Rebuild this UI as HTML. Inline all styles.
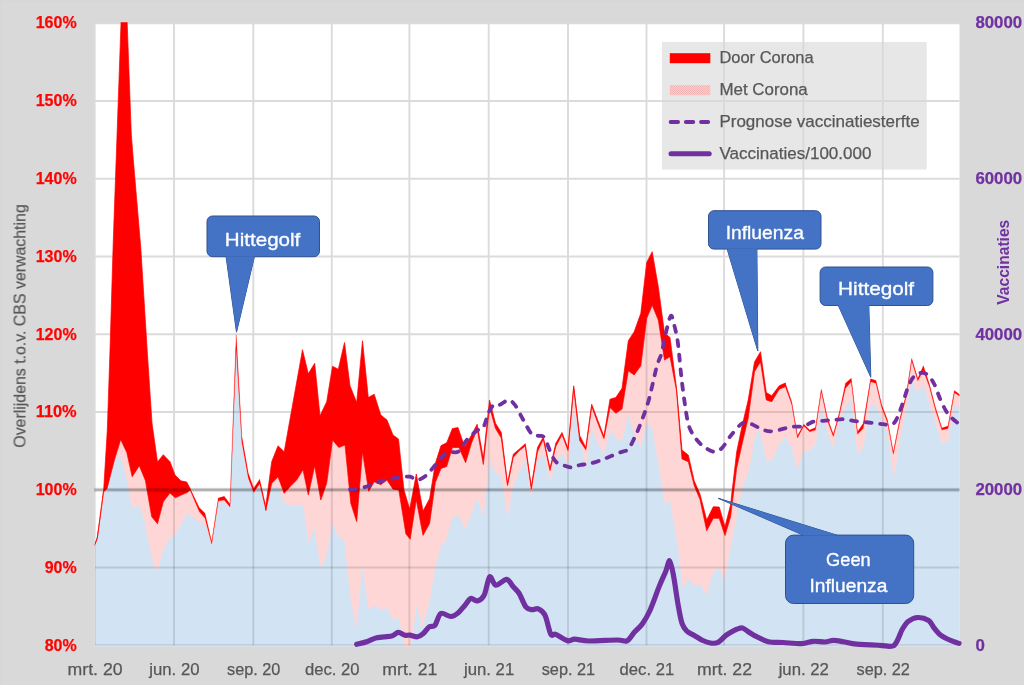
<!DOCTYPE html>
<html><head><meta charset="utf-8"><title>Chart</title>
<style>html,body{margin:0;padding:0;background:#D9D9D9;overflow:hidden}body{width:1024px;height:685px;position:relative;font-family:"Liberation Sans",sans-serif}</style></head>
<body>
<svg width="1024" height="685" viewBox="0 0 1024 685" style="position:absolute;left:0;top:0" font-family="Liberation Sans, sans-serif">
<defs>
<clipPath id="plot"><rect x="94.75" y="22.3" width="864.75" height="624.4000000000001"/></clipPath>
<clipPath id="plot2"><rect x="94.75" y="23.3" width="864.75" height="622.2"/></clipPath>
<clipPath id="underP"><polygon points="92.0,548.5 95.0,544.3 97.3,538.5 103.5,492.0 107.1,488.4 114.4,460.0 120.7,439.5 126.8,452.6 132.2,476.7 139.3,465.8 145.4,480.4 151.7,516.7 157.5,523.8 163.3,501.7 170.0,493.0 175.3,497.8 181.3,495.0 187.2,492.5 190.0,490.0 199.2,511.5 205.0,518.3 211.7,544.0 218.3,501.0 224.2,500.0 230.0,507.0 236.2,348.0 241.8,442.0 248.3,478.0 253.7,492.5 259.7,483.7 265.8,510.5 271.7,483.3 278.0,476.7 284.2,493.3 290.8,485.8 296.7,480.0 303.0,469.7 308.3,495.0 314.7,465.8 320.8,500.0 326.7,483.3 332.5,440.0 338.8,447.5 345.0,445.0 350.8,503.3 356.7,521.7 362.5,451.7 368.7,491.3 374.2,481.7 380.8,484.7 387.0,480.0 393.0,489.2 398.8,490.0 405.9,533.9 410.2,539.2 416.3,499.7 423.0,535.4 429.6,523.4 435.3,482.6 441.0,468.4 446.7,466.5 452.4,447.5 459.0,447.5 465.6,462.7 471.7,442.5 477.2,429.2 483.3,464.5 489.5,407.0 495.5,428.5 501.3,438.0 507.5,485.5 513.3,457.3 519.2,450.7 525.3,445.9 531.3,488.9 537.5,451.7 543.3,439.2 550.0,470.5 555.8,446.5 562.0,434.7 568.0,450.5 573.7,388.0 579.7,440.5 585.8,449.7 591.7,406.4 598.0,423.6 603.9,438.5 610.0,407.5 615.8,413.3 622.0,409.0 628.3,370.8 634.2,375.0 640.8,365.8 646.7,318.3 652.2,305.3 658.3,320.0 664.5,360.0 670.0,356.7 676.5,390.5 682.0,459.0 688.3,461.7 694.2,485.5 700.0,499.5 706.7,530.8 713.3,518.3 719.2,518.3 725.0,535.5 730.5,517.0 736.7,468.0 742.3,443.0 748.2,418.0 754.5,371.7 760.5,361.7 766.3,400.0 771.7,401.7 779.2,389.2 785.3,386.7 791.7,404.2 797.5,438.0 803.8,425.9 809.7,431.7 815.5,430.0 821.3,391.4 827.5,420.8 833.3,436.4 839.2,415.8 845.5,388.3 851.3,381.7 857.5,434.2 863.3,428.3 870.6,381.7 876.0,383.3 881.7,407.5 887.5,422.5 893.3,454.2 900.0,420.5 906.6,395.5 911.7,360.7 917.8,380.7 923.4,370.5 929.4,386.7 935.5,410.0 941.9,430.0 948.0,428.5 954.4,392.8 959.6,396.1 962.0,397.5 962.0,700.0 92.0,700.0"/></clipPath>
<pattern id="pinkpat" width="2" height="2" patternUnits="userSpaceOnUse"><rect width="2" height="2" fill="#F8CFCF"/><rect width="1" height="1" fill="#F2B4B4"/><rect x="1" y="1" width="1" height="1" fill="#F2B4B4"/></pattern>
</defs>
<rect width="1024" height="685" fill="#D9D9D9"/>
<rect width="2" height="685" fill="#D7D7D7"/><rect width="1024" height="1.3" fill="#D7D7D7"/>
<rect x="94.75" y="23.3" width="864.75" height="622.2" fill="#fff"/>
<line x1="94.7" y1="23.3" x2="94.7" y2="645.5" stroke="#DBDBDB" stroke-width="1.9"/><line x1="174.0" y1="23.3" x2="174.0" y2="645.5" stroke="#DBDBDB" stroke-width="1.9"/><line x1="253.3" y1="23.3" x2="253.3" y2="645.5" stroke="#DBDBDB" stroke-width="1.9"/><line x1="331.8" y1="23.3" x2="331.8" y2="645.5" stroke="#DBDBDB" stroke-width="1.9"/><line x1="409.4" y1="23.3" x2="409.4" y2="645.5" stroke="#DBDBDB" stroke-width="1.9"/><line x1="488.7" y1="23.3" x2="488.7" y2="645.5" stroke="#DBDBDB" stroke-width="1.9"/><line x1="568.0" y1="23.3" x2="568.0" y2="645.5" stroke="#DBDBDB" stroke-width="1.9"/><line x1="646.5" y1="23.3" x2="646.5" y2="645.5" stroke="#DBDBDB" stroke-width="1.9"/><line x1="724.1" y1="23.3" x2="724.1" y2="645.5" stroke="#DBDBDB" stroke-width="1.9"/><line x1="803.4" y1="23.3" x2="803.4" y2="645.5" stroke="#DBDBDB" stroke-width="1.9"/><line x1="882.8" y1="23.3" x2="882.8" y2="645.5" stroke="#DBDBDB" stroke-width="1.9"/><line x1="94.75" y1="23.3" x2="959.5" y2="23.3" stroke="#DBDBDB" stroke-width="1.9"/><line x1="94.75" y1="101.0" x2="959.5" y2="101.0" stroke="#DBDBDB" stroke-width="1.9"/><line x1="94.75" y1="178.8" x2="959.5" y2="178.8" stroke="#DBDBDB" stroke-width="1.9"/><line x1="94.75" y1="256.5" x2="959.5" y2="256.5" stroke="#DBDBDB" stroke-width="1.9"/><line x1="94.75" y1="334.3" x2="959.5" y2="334.3" stroke="#DBDBDB" stroke-width="1.9"/><line x1="94.75" y1="412.0" x2="959.5" y2="412.0" stroke="#DBDBDB" stroke-width="1.9"/><line x1="94.75" y1="489.7" x2="959.5" y2="489.7" stroke="#DBDBDB" stroke-width="1.9"/><line x1="94.75" y1="567.5" x2="959.5" y2="567.5" stroke="#DBDBDB" stroke-width="1.9"/><line x1="94.75" y1="645.2" x2="959.5" y2="645.2" stroke="#DBDBDB" stroke-width="1.9"/>
<g clip-path="url(#plot)">
<polygon points="92.0,548.5 95.0,544.3 97.3,538.5 103.5,492.0 107.1,488.4 114.4,460.0 120.7,439.5 126.8,452.6 132.2,476.7 139.3,465.8 145.4,480.4 151.7,516.7 157.5,523.8 163.3,501.7 170.0,493.0 175.3,497.8 181.3,495.0 187.2,492.5 190.0,490.0 199.2,511.5 205.0,518.3 211.7,544.0 218.3,501.0 224.2,500.0 230.0,507.0 236.2,348.0 241.8,442.0 248.3,478.0 253.7,492.5 259.7,483.7 265.8,510.5 271.7,483.3 278.0,476.7 284.2,493.3 290.8,485.8 296.7,480.0 303.0,469.7 308.3,495.0 314.7,465.8 320.8,500.0 326.7,483.3 332.5,440.0 338.8,447.5 345.0,445.0 350.8,503.3 356.7,521.7 362.5,451.7 368.7,491.3 374.2,481.7 380.8,484.7 387.0,480.0 393.0,489.2 398.8,490.0 405.9,533.9 410.2,539.2 416.3,499.7 423.0,535.4 429.6,523.4 435.3,482.6 441.0,468.4 446.7,466.5 452.4,447.5 459.0,447.5 465.6,462.7 471.7,442.5 477.2,429.2 483.3,464.5 489.5,407.0 495.5,428.5 501.3,438.0 507.5,485.5 513.3,457.3 519.2,450.7 525.3,445.9 531.3,488.9 537.5,451.7 543.3,439.2 550.0,470.5 555.8,446.5 562.0,434.7 568.0,450.5 573.7,388.0 579.7,440.5 585.8,449.7 591.7,406.4 598.0,423.6 603.9,438.5 610.0,407.5 615.8,413.3 622.0,409.0 628.3,370.8 634.2,375.0 640.8,365.8 646.7,318.3 652.2,305.3 658.3,320.0 664.5,360.0 670.0,356.7 676.5,390.5 682.0,459.0 688.3,461.7 694.2,485.5 700.0,499.5 706.7,530.8 713.3,518.3 719.2,518.3 725.0,535.5 730.5,517.0 736.7,468.0 742.3,443.0 748.2,418.0 754.5,371.7 760.5,361.7 766.3,400.0 771.7,401.7 779.2,389.2 785.3,386.7 791.7,404.2 797.5,438.0 803.8,425.9 809.7,431.7 815.5,430.0 821.3,391.4 827.5,420.8 833.3,436.4 839.2,415.8 845.5,388.3 851.3,381.7 857.5,434.2 863.3,428.3 870.6,381.7 876.0,383.3 881.7,407.5 887.5,422.5 893.3,454.2 900.0,420.5 906.6,395.5 911.7,360.7 917.8,380.7 923.4,370.5 929.4,386.7 935.5,410.0 941.9,430.0 948.0,428.5 954.4,392.8 959.6,396.1 962.0,397.5 962.0,700.0 92.0,700.0" fill="#FFD6D6"/>
<polygon points="92.0,549.0 95.0,545.0 97.6,530.0 100.6,517.6 107.1,488.4 114.4,460.0 120.3,455.5 126.5,479.0 132.2,508.8 139.5,504.5 145.0,523.0 150.8,554.2 152.5,561.0 157.2,572.3 162.5,551.8 170.0,537.7 175.0,535.3 187.5,512.8 196.7,520.0 205.8,525.8 211.7,546.5 218.3,503.8 224.2,502.3 230.0,509.0 236.2,355.0 241.8,446.0 248.3,479.5 253.7,493.5 259.7,484.7 265.8,511.5 271.7,488.0 278.0,487.0 284.2,503.3 290.8,505.0 303.0,505.8 305.0,516.7 308.3,543.5 314.2,527.5 320.8,568.5 326.7,554.3 332.5,523.3 338.3,536.7 344.2,539.2 347.5,571.0 350.8,601.0 356.7,628.5 362.5,565.0 368.3,609.3 374.2,605.0 380.8,610.0 386.7,608.0 393.0,619.3 398.8,618.0 404.2,645.0 410.8,650.0 416.7,604.3 422.5,628.5 430.0,599.3 435.0,568.5 440.8,546.0 445.8,540.8 452.5,517.5 458.3,515.3 465.3,529.2 477.5,497.5 483.3,517.5 489.7,460.0 495.5,473.3 501.3,475.8 507.5,518.3 513.3,485.0 519.2,472.0 525.3,460.0 531.5,499.2 537.5,461.7 543.3,453.3 550.3,481.7 555.8,460.0 562.0,453.3 568.0,465.0 573.7,411.0 579.7,436.0 585.8,469.2 591.7,429.0 598.0,443.0 604.2,455.0 610.0,429.7 615.8,438.0 622.0,440.8 628.3,415.0 635.0,436.7 640.8,446.7 646.7,423.3 652.2,428.3 658.3,463.3 664.7,503.3 670.0,501.3 675.8,534.0 678.2,548.5 682.5,588.3 688.6,578.8 694.3,585.5 700.0,584.0 706.6,595.0 712.3,575.0 718.4,566.5 724.6,580.3 731.0,544.7 736.7,517.0 742.5,486.7 749.2,470.0 755.0,436.7 759.2,428.3 766.7,460.8 772.5,460.0 778.7,445.0 785.3,436.7 791.7,447.5 797.5,470.0 803.3,450.8 809.7,450.8 815.5,445.0 821.3,406.7 827.5,433.3 833.3,448.3 839.2,423.3 845.5,405.8 851.3,400.0 857.5,454.2 863.3,447.5 870.6,404.5 876.0,405.0 881.7,420.0 887.5,434.0 894.0,478.3 900.5,437.0 906.6,407.5 911.7,380.2 917.8,393.0 923.4,383.4 929.4,404.2 935.5,423.5 941.9,443.6 948.0,441.2 954.4,405.9 959.6,406.7 962.0,407.0 962.0,700.0 92.0,700.0" fill="#D2E4F3"/>
<g clip-path="url(#underP)"><g clip-path="url(#plot2)"><line x1="94.7" y1="23.3" x2="94.7" y2="645.5" stroke="rgba(0,0,0,0.12)" stroke-width="1.9"/><line x1="174.0" y1="23.3" x2="174.0" y2="645.5" stroke="rgba(0,0,0,0.12)" stroke-width="1.9"/><line x1="253.3" y1="23.3" x2="253.3" y2="645.5" stroke="rgba(0,0,0,0.12)" stroke-width="1.9"/><line x1="331.8" y1="23.3" x2="331.8" y2="645.5" stroke="rgba(0,0,0,0.12)" stroke-width="1.9"/><line x1="409.4" y1="23.3" x2="409.4" y2="645.5" stroke="rgba(0,0,0,0.12)" stroke-width="1.9"/><line x1="488.7" y1="23.3" x2="488.7" y2="645.5" stroke="rgba(0,0,0,0.12)" stroke-width="1.9"/><line x1="568.0" y1="23.3" x2="568.0" y2="645.5" stroke="rgba(0,0,0,0.12)" stroke-width="1.9"/><line x1="646.5" y1="23.3" x2="646.5" y2="645.5" stroke="rgba(0,0,0,0.12)" stroke-width="1.9"/><line x1="724.1" y1="23.3" x2="724.1" y2="645.5" stroke="rgba(0,0,0,0.12)" stroke-width="1.9"/><line x1="803.4" y1="23.3" x2="803.4" y2="645.5" stroke="rgba(0,0,0,0.12)" stroke-width="1.9"/><line x1="882.8" y1="23.3" x2="882.8" y2="645.5" stroke="rgba(0,0,0,0.12)" stroke-width="1.9"/><line x1="94.75" y1="23.3" x2="959.5" y2="23.3" stroke="rgba(0,0,0,0.12)" stroke-width="1.9"/><line x1="94.75" y1="101.0" x2="959.5" y2="101.0" stroke="rgba(0,0,0,0.12)" stroke-width="1.9"/><line x1="94.75" y1="178.8" x2="959.5" y2="178.8" stroke="rgba(0,0,0,0.12)" stroke-width="1.9"/><line x1="94.75" y1="256.5" x2="959.5" y2="256.5" stroke="rgba(0,0,0,0.12)" stroke-width="1.9"/><line x1="94.75" y1="334.3" x2="959.5" y2="334.3" stroke="rgba(0,0,0,0.12)" stroke-width="1.9"/><line x1="94.75" y1="412.0" x2="959.5" y2="412.0" stroke="rgba(0,0,0,0.12)" stroke-width="1.9"/><line x1="94.75" y1="489.7" x2="959.5" y2="489.7" stroke="rgba(0,0,0,0.12)" stroke-width="1.9"/><line x1="94.75" y1="567.5" x2="959.5" y2="567.5" stroke="rgba(0,0,0,0.12)" stroke-width="1.9"/><line x1="94.75" y1="645.2" x2="959.5" y2="645.2" stroke="rgba(0,0,0,0.12)" stroke-width="1.9"/></g></g>
<polygon points="92.0,548.0 95.0,543.8 97.3,537.7 103.7,489.5 107.3,430.0 110.0,350.0 113.3,240.0 121.2,18.0 127.0,18.0 131.3,134.0 133.0,156.0 140.8,248.0 147.3,352.0 152.0,423.0 157.5,462.0 163.3,454.7 170.0,461.7 175.0,475.0 180.8,480.8 186.7,482.0 190.0,488.3 190.0,490.0 187.2,492.5 181.3,495.0 175.3,497.8 170.0,493.0 163.3,501.7 157.5,523.8 151.7,516.7 145.4,480.4 139.3,465.8 132.2,476.7 126.8,452.6 120.7,439.5 114.4,460.0 107.1,488.4 103.5,492.0 97.3,538.5 95.0,544.3 92.0,548.5" fill="#FF0000" stroke="#FF0000" stroke-width="0.7" stroke-linejoin="round"/>
<polygon points="190.0,488.3 199.2,507.5 205.0,513.3 211.7,541.7 218.3,498.0 224.2,496.3 230.0,504.0 236.2,334.7 241.8,436.0 248.3,473.3 253.7,488.3 259.7,479.2 265.8,505.8 265.8,510.5 259.7,483.7 253.7,492.5 248.3,478.0 241.8,442.0 236.2,348.0 230.0,507.0 224.2,500.0 218.3,501.0 211.7,544.0 205.0,518.3 199.2,511.5 190.0,490.0" fill="#FF0000" stroke="#FF0000" stroke-width="0.25" stroke-linejoin="round"/>
<polygon points="265.8,505.8 271.7,461.7 278.0,445.8 284.2,451.7 290.6,416.0 296.7,382.0 302.5,349.7 308.3,373.7 314.7,363.3 320.0,415.8 326.7,401.7 332.5,366.3 338.3,369.2 344.5,342.5 350.0,385.8 356.7,402.5 362.5,340.8 368.3,397.5 374.2,394.2 380.8,415.0 387.0,420.0 393.0,435.0 398.5,439.0 404.0,490.2 409.7,509.2 416.3,474.0 423.0,511.0 429.6,498.7 435.3,463.6 441.0,445.6 446.7,442.8 452.4,428.5 458.0,427.6 464.7,447.0 471.2,435.5 477.2,424.2 483.3,458.3 489.5,400.0 495.5,423.3 501.3,432.5 507.5,483.3 513.3,454.2 519.2,449.2 525.3,443.7 531.3,486.7 537.5,447.5 543.3,437.0 550.0,468.3 555.8,443.3 562.0,432.5 568.0,448.3 573.7,385.8 579.7,435.5 585.8,447.5 591.7,404.2 598.0,420.8 603.9,436.3 610.0,399.2 615.8,397.5 622.0,388.3 628.3,340.8 634.2,331.7 640.8,313.3 646.7,262.5 652.2,251.7 658.3,286.7 664.5,333.0 670.0,337.5 676.5,388.0 682.0,450.0 688.3,455.0 694.2,480.8 700.0,494.2 706.7,520.0 713.3,506.7 719.2,507.0 725.0,526.7 730.5,505.0 736.7,451.7 742.3,425.0 748.2,400.0 754.5,362.0 760.5,351.7 766.3,392.5 771.7,395.8 779.2,385.8 785.3,383.0 785.3,386.7 779.2,389.2 771.7,401.7 766.3,400.0 760.5,361.7 754.5,371.7 748.2,418.0 742.3,443.0 736.7,468.0 730.5,517.0 725.0,535.5 719.2,518.3 713.3,518.3 706.7,530.8 700.0,499.5 694.2,485.5 688.3,461.7 682.0,459.0 676.5,390.5 670.0,356.7 664.5,360.0 658.3,320.0 652.2,305.3 646.7,318.3 640.8,365.8 634.2,375.0 628.3,370.8 622.0,409.0 615.8,413.3 610.0,407.5 603.9,438.5 598.0,423.6 591.7,406.4 585.8,449.7 579.7,440.5 573.7,388.0 568.0,450.5 562.0,434.7 555.8,446.5 550.0,470.5 543.3,439.2 537.5,451.7 531.3,488.9 525.3,445.9 519.2,450.7 513.3,457.3 507.5,485.5 501.3,438.0 495.5,428.5 489.5,407.0 483.3,464.5 477.2,429.2 471.7,442.5 465.6,462.7 459.0,447.5 452.4,447.5 446.7,466.5 441.0,468.4 435.3,482.6 429.6,523.4 423.0,535.4 416.3,499.7 410.2,539.2 405.9,533.9 398.8,490.0 393.0,489.2 387.0,480.0 380.8,484.7 374.2,481.7 368.7,491.3 362.5,451.7 356.7,521.7 350.8,503.3 345.0,445.0 338.8,447.5 332.5,440.0 326.7,483.3 320.8,500.0 314.7,465.8 308.3,495.0 303.0,469.7 296.7,480.0 290.8,485.8 284.2,493.3 278.0,476.7 271.7,483.3 265.8,510.5" fill="#FF0000" stroke="#FF0000" stroke-width="0.7" stroke-linejoin="round"/>
<polygon points="785.3,383.0 791.7,401.7 797.5,435.8 803.8,424.2 809.7,430.0 815.5,427.5 821.3,389.2 827.5,418.3 833.3,434.2 839.2,413.3 845.5,383.3 851.3,378.3 857.5,431.7 863.3,423.3 870.6,378.8 876.0,380.5 881.7,405.0 887.5,420.0 893.3,452.0 900.0,418.0 906.6,393.0 911.7,358.5 917.8,378.5 923.4,365.7 929.4,384.2 935.5,407.5 941.9,428.0 948.0,426.0 954.4,390.6 959.6,394.6 962.0,396.0 962.0,397.5 959.6,396.1 954.4,392.8 948.0,428.5 941.9,430.0 935.5,410.0 929.4,386.7 923.4,370.5 917.8,380.7 911.7,360.7 906.6,395.5 900.0,420.5 893.3,454.2 887.5,422.5 881.7,407.5 876.0,383.3 870.6,381.7 863.3,428.3 857.5,434.2 851.3,381.7 845.5,388.3 839.2,415.8 833.3,436.4 827.5,420.8 821.3,391.4 815.5,430.0 809.7,431.7 803.8,425.9 797.5,438.0 791.7,404.2 785.3,386.7" fill="#FF0000" stroke="#FF0000" stroke-width="0.3" stroke-linejoin="round"/>
</g>
<line x1="94.05" y1="489.9" x2="959.5" y2="489.9" stroke="rgba(0,0,0,0.05)" stroke-width="4.8"/>
<line x1="94.05" y1="489.9" x2="959.5" y2="489.9" stroke="rgba(0,0,0,0.09)" stroke-width="3.6"/>
<line x1="94.05" y1="489.9" x2="959.5" y2="489.9" stroke="rgba(0,0,0,0.08)" stroke-width="2.4"/>
<path d="M350.0,489.7 C352.5,489.2 361.9,488.0 366.7,486.7 C371.5,485.4 376.7,482.2 381.7,480.8 C386.7,479.4 395.8,478.1 400.0,477.5 C404.2,476.9 407.4,476.3 410.0,476.7 C412.6,477.1 415.0,480.3 417.5,480.0 C420.0,479.7 423.8,477.5 426.7,475.0 C429.6,472.5 433.7,466.7 436.7,463.3 C439.7,459.9 443.5,454.2 446.7,452.5 C449.9,450.8 455.3,453.6 458.3,451.7 C461.3,449.8 463.9,443.1 466.7,440.0 C469.5,436.9 474.2,432.7 476.7,430.8 C479.2,428.9 481.6,430.1 483.3,427.5 C485.0,424.9 486.7,416.8 488.3,413.3 C489.9,409.8 492.4,405.5 494.2,404.2 C496.0,402.9 497.9,405.3 500.0,404.7 C502.1,404.1 506.1,400.0 508.3,400.0 C510.6,400.0 512.8,402.0 515.0,405.0 C517.2,408.0 520.8,415.6 523.3,420.0 C525.8,424.4 529.5,431.8 531.7,434.2 C534.0,436.6 536.4,435.3 538.3,435.8 C540.2,436.3 542.2,434.6 544.2,437.5 C546.2,440.4 549.8,451.2 551.7,455.0 C553.6,458.8 554.7,460.9 556.7,462.5 C558.7,464.1 562.6,465.1 565.0,465.8 C567.4,466.6 570.2,467.6 572.5,467.5 C574.8,467.4 577.4,465.6 580.0,465.0 C582.6,464.4 586.5,464.6 590.0,463.7 C593.5,462.8 598.8,460.9 603.3,459.2 C607.8,457.5 616.2,454.0 620.0,452.5 C623.8,451.0 626.0,451.6 628.3,449.2 C630.5,446.8 633.2,440.3 635.0,436.7 C636.8,433.1 638.0,430.2 640.0,425.0 C642.0,419.8 645.8,410.4 648.3,401.7 C650.8,393.0 654.8,373.9 656.7,366.7 C658.7,359.5 659.9,359.0 661.3,354.0 C662.7,349.0 664.4,339.0 665.8,333.3 C667.2,327.6 669.5,317.0 670.8,315.8 C672.1,314.6 673.2,321.4 674.2,325.0 C675.2,328.6 676.8,335.5 677.5,340.0 C678.2,344.5 678.6,349.0 679.2,355.0 C679.8,361.0 680.8,372.5 681.7,380.0 C682.6,387.5 684.0,398.4 685.0,405.0 C686.0,411.6 687.1,419.5 688.3,424.0 C689.5,428.5 691.3,431.9 693.3,435.0 C695.3,438.1 698.7,442.5 701.7,445.0 C704.7,447.5 710.3,451.2 713.3,451.7 C716.3,452.2 719.2,450.6 721.7,448.3 C724.2,446.1 727.3,440.2 730.0,436.7 C732.7,433.2 737.8,427.1 740.0,425.0 C742.2,422.9 743.2,422.6 745.0,422.5 C746.8,422.4 749.2,423.2 751.7,424.2 C754.2,425.2 759.0,428.1 761.7,429.2 C764.4,430.3 767.3,431.2 770.0,431.3 C772.7,431.4 776.7,430.4 780.0,429.7 C783.3,429.0 788.2,427.2 791.7,426.7 C795.2,426.2 800.1,427.1 803.3,426.3 C806.5,425.6 810.3,422.5 813.3,421.7 C816.3,420.9 820.3,421.1 823.3,420.8 C826.3,420.5 830.3,420.2 833.3,420.0 C836.3,419.8 840.3,419.1 843.3,419.2 C846.3,419.3 850.3,420.4 853.3,420.8 C856.3,421.2 860.3,421.7 863.3,422.0 C866.3,422.3 870.3,422.7 873.3,423.0 C876.3,423.3 880.5,423.9 883.3,424.2 C886.1,424.5 889.7,425.4 891.7,424.7 C893.7,424.0 894.9,422.3 896.4,419.5 C897.9,416.7 900.0,410.8 901.8,405.9 C903.6,401.0 906.5,390.8 908.2,386.6 C909.9,382.4 911.6,379.6 913.0,377.7 C914.4,375.8 916.2,374.4 917.8,373.7 C919.4,373.0 921.7,372.5 923.4,372.9 C925.1,373.3 927.4,374.3 929.1,376.1 C930.8,377.9 933.0,381.5 934.7,385.0 C936.4,388.5 938.6,395.5 940.3,399.4 C942.0,403.3 944.2,407.9 945.9,410.7 C947.6,413.5 949.5,415.9 951.6,417.9 C953.7,419.9 958.4,423.3 959.6,424.3" fill="none" stroke="#7030A0" stroke-width="3.8" stroke-dasharray="6 8.6" stroke-linecap="round" stroke-linejoin="round"/>
<path d="M356.7,644.3 C358.2,643.9 363.7,642.8 366.7,641.8 C369.7,640.8 372.9,638.6 376.7,637.7 C380.4,636.8 388.5,636.8 391.7,636.0 C394.9,635.2 396.3,632.4 398.3,632.3 C400.3,632.2 403.2,634.8 405.0,635.2 C406.8,635.6 408.1,635.0 410.0,635.2 C411.9,635.4 415.5,637.1 417.5,636.8 C419.5,636.5 421.5,635.0 423.3,633.5 C425.1,632.0 427.4,628.0 429.2,626.8 C431.0,625.6 433.3,627.2 435.0,625.2 C436.7,623.2 438.4,614.8 440.8,613.5 C443.2,612.2 448.2,616.6 450.8,616.5 C453.4,616.4 456.2,614.4 458.3,612.7 C460.4,611.0 463.1,607.3 465.0,605.2 C466.9,603.1 468.9,599.1 470.8,598.5 C472.7,597.9 475.5,601.5 477.5,601.0 C479.5,600.5 482.4,598.8 484.2,595.2 C486.0,591.6 488.0,578.3 489.7,576.8 C491.4,575.3 493.2,584.8 495.8,585.2 C498.4,585.6 504.1,579.1 506.7,579.3 C509.3,579.5 511.4,584.7 513.3,586.8 C515.2,588.9 517.3,590.5 519.2,593.5 C521.1,596.5 523.9,604.4 525.8,606.8 C527.7,609.2 529.8,609.4 531.7,609.7 C533.6,610.0 536.3,608.0 538.3,608.8 C540.3,609.6 543.1,611.4 545.0,615.2 C546.9,619.0 549.2,631.4 550.8,634.3 C552.4,637.2 553.3,633.3 555.8,634.3 C558.3,635.3 564.7,640.0 567.5,640.7 C570.3,641.4 571.5,639.2 574.7,639.2 C577.9,639.2 582.6,640.9 589.0,641.0 C595.4,641.1 611.7,640.0 617.4,640.0 C623.1,640.0 624.4,642.1 627.0,640.9 C629.6,639.7 632.2,634.5 634.5,632.0 C636.8,629.5 639.7,627.5 642.0,624.4 C644.3,621.2 647.1,616.7 649.7,611.0 C652.3,605.3 656.8,592.4 659.2,586.4 C661.6,580.4 664.2,575.0 665.8,571.2 C667.4,567.4 668.5,560.2 669.6,560.8 C670.7,561.4 672.1,568.3 673.4,575.0 C674.7,581.7 676.9,598.1 678.2,605.4 C679.5,612.7 680.7,619.6 682.0,623.4 C683.3,627.2 684.9,629.2 686.7,631.0 C688.5,632.8 691.9,634.0 694.3,635.4 C696.7,636.8 700.4,639.4 702.8,640.5 C705.2,641.6 708.1,642.7 710.4,643.0 C712.7,643.3 715.7,643.5 718.0,642.4 C720.3,641.3 723.3,637.4 725.6,635.7 C727.9,634.0 731.5,632.0 733.2,631.0 C734.9,630.0 735.3,629.7 736.7,629.2 C738.1,628.8 740.8,627.6 742.5,628.0 C744.2,628.4 746.4,630.5 748.3,631.7 C750.2,632.9 752.0,634.3 755.0,635.8 C758.0,637.3 764.1,640.7 768.3,641.7 C772.5,642.7 778.3,642.2 783.3,642.5 C788.3,642.8 797.2,643.9 801.7,643.7 C806.2,643.5 809.8,641.6 813.3,641.3 C816.8,641.0 822.0,642.1 825.0,642.0 C828.0,641.9 830.6,640.3 833.3,640.3 C836.0,640.3 839.8,641.1 843.3,641.7 C846.8,642.3 851.2,643.7 856.7,644.2 C862.2,644.7 874.4,645.1 880.0,645.3 C885.6,645.5 890.9,647.7 894.2,645.3 C897.5,642.9 900.2,632.9 902.3,629.3 C904.4,625.7 905.8,623.3 908.1,621.5 C910.4,619.7 914.8,617.6 917.9,617.5 C921.0,617.4 926.3,619.0 928.7,620.5 C931.1,622.0 932.0,625.2 933.6,627.3 C935.2,629.4 937.4,632.4 939.5,634.2 C941.6,636.0 944.4,637.6 947.3,639.0 C950.2,640.4 957.2,642.7 959.0,643.4" fill="none" stroke="#7030A0" stroke-width="5.2" stroke-linecap="round" stroke-linejoin="round"/>
<rect x="662" y="42" width="264.7" height="127.6" fill="rgba(217,217,217,0.62)"/>
<rect x="669.8" y="53.2" width="40.5" height="10" fill="#FF0000"/>
<rect x="669.8" y="85.2" width="40.5" height="10" fill="url(#pinkpat)"/>
<line x1="670.6" y1="122" x2="708.2" y2="122" stroke="#7030A0" stroke-width="3.8" stroke-dasharray="7.5 7.7" stroke-linecap="round"/>
<line x1="671" y1="153.8" x2="709.2" y2="153.8" stroke="#7030A0" stroke-width="5" stroke-linecap="round"/>




<g><polygon points="226.0,256.2 254.5,256.2 236.5,332.2" fill="#4472C4" stroke="#2F528F" stroke-width="1" stroke-linejoin="round"/><rect x="207" y="216" width="112.5" height="40.69999999999999" rx="5.5" ry="5.5" fill="#4472C4" stroke="#2F528F" stroke-width="1"/><polygon points="226.0,256.2 254.5,256.2 236.5,332.2" fill="#4472C4"/></g>
<g><polygon points="727.0,248.6 756.9,248.6 757.8,351.0" fill="#4472C4" stroke="#2F528F" stroke-width="1" stroke-linejoin="round"/><rect x="708.5" y="210.7" width="112.5" height="38.400000000000006" rx="5.5" ry="5.5" fill="#4472C4" stroke="#2F528F" stroke-width="1"/><polygon points="727.0,248.6 756.9,248.6 757.8,351.0" fill="#4472C4"/></g>
<g><polygon points="838.1,305.0 868.8,305.0 870.8,377.2" fill="#4472C4" stroke="#2F528F" stroke-width="1" stroke-linejoin="round"/><rect x="820.1" y="267" width="112.79999999999995" height="38.5" rx="5.5" ry="5.5" fill="#4472C4" stroke="#2F528F" stroke-width="1"/><polygon points="838.1,305.0 868.8,305.0 870.8,377.2" fill="#4472C4"/></g>
<g><polygon points="804.3,535.6 838.3,535.6 718.3,498.3" fill="#4472C4" stroke="#2F528F" stroke-width="1" stroke-linejoin="round"/><rect x="785.5" y="535.1" width="128.20000000000005" height="68.39999999999998" rx="8" ry="8" fill="#4472C4" stroke="#2F528F" stroke-width="1"/><polygon points="804.3,535.6 838.3,535.6 718.3,498.3" fill="#4472C4"/></g>



























<g opacity="0.99">
<text x="719.4" y="63.4" font-size="16.8" fill="#555" stroke="#555" stroke-width="0.25" textLength="94.3" lengthAdjust="spacingAndGlyphs">Door Corona</text>
<text x="719.4" y="95.1" font-size="16.8" fill="#555" stroke="#555" stroke-width="0.25" textLength="88.4" lengthAdjust="spacingAndGlyphs">Met Corona</text>
<text x="719.4" y="126.9" font-size="16.8" fill="#555" stroke="#555" stroke-width="0.25" textLength="200.2" lengthAdjust="spacingAndGlyphs">Prognose vaccinatiesterfte</text>
<text x="719.4" y="158.9" font-size="16.8" fill="#555" stroke="#555" stroke-width="0.25" textLength="152.1" lengthAdjust="spacingAndGlyphs">Vaccinaties/100.000</text>
<text x="262.6" y="245.5" text-anchor="middle" font-size="19.2" fill="#fff" stroke="#fff" stroke-width="0.35" textLength="75.5" lengthAdjust="spacingAndGlyphs">Hittegolf</text>
<text x="764.8" y="239.2" text-anchor="middle" font-size="18.8" fill="#fff" stroke="#fff" stroke-width="0.35" textLength="78.3" lengthAdjust="spacingAndGlyphs">Influenza</text>
<text x="876.1" y="295.3" text-anchor="middle" font-size="19.0" fill="#fff" stroke="#fff" stroke-width="0.35" textLength="76" lengthAdjust="spacingAndGlyphs">Hittegolf</text>
<text x="848.4" y="565.8" text-anchor="middle" font-size="18.8" fill="#fff" stroke="#fff" stroke-width="0.35" textLength="44.6" lengthAdjust="spacingAndGlyphs">Geen</text>
<text x="848.4" y="592" text-anchor="middle" font-size="18.8" fill="#fff" stroke="#fff" stroke-width="0.35" textLength="77.8" lengthAdjust="spacingAndGlyphs">Influenza</text>
<text x="76.7" y="28.4" text-anchor="end" font-size="17" font-weight="bold" fill="#FF0000" stroke="#FF0000" stroke-width="0.25" textLength="41.0" lengthAdjust="spacingAndGlyphs">160%</text>
<text x="76.7" y="106.2" text-anchor="end" font-size="17" font-weight="bold" fill="#FF0000" stroke="#FF0000" stroke-width="0.25" textLength="41.0" lengthAdjust="spacingAndGlyphs">150%</text>
<text x="76.7" y="184.0" text-anchor="end" font-size="17" font-weight="bold" fill="#FF0000" stroke="#FF0000" stroke-width="0.25" textLength="41.0" lengthAdjust="spacingAndGlyphs">140%</text>
<text x="76.7" y="261.8" text-anchor="end" font-size="17" font-weight="bold" fill="#FF0000" stroke="#FF0000" stroke-width="0.25" textLength="41.0" lengthAdjust="spacingAndGlyphs">130%</text>
<text x="76.7" y="339.6" text-anchor="end" font-size="17" font-weight="bold" fill="#FF0000" stroke="#FF0000" stroke-width="0.25" textLength="41.0" lengthAdjust="spacingAndGlyphs">120%</text>
<text x="76.7" y="417.4" text-anchor="end" font-size="17" font-weight="bold" fill="#FF0000" stroke="#FF0000" stroke-width="0.25" textLength="41.0" lengthAdjust="spacingAndGlyphs">110%</text>
<text x="76.7" y="495.2" text-anchor="end" font-size="17" font-weight="bold" fill="#FF0000" stroke="#FF0000" stroke-width="0.25" textLength="41.0" lengthAdjust="spacingAndGlyphs">100%</text>
<text x="76.7" y="573.0" text-anchor="end" font-size="17" font-weight="bold" fill="#FF0000" stroke="#FF0000" stroke-width="0.25" textLength="32.0" lengthAdjust="spacingAndGlyphs">90%</text>
<text x="76.7" y="650.8" text-anchor="end" font-size="17" font-weight="bold" fill="#FF0000" stroke="#FF0000" stroke-width="0.25" textLength="32.0" lengthAdjust="spacingAndGlyphs">80%</text>
<text x="975.4" y="28.3" font-size="16.9" font-weight="bold" fill="#7030A0" stroke="#7030A0" stroke-width="0.25" textLength="46.8" lengthAdjust="spacingAndGlyphs">80000</text>
<text x="975.4" y="183.9" font-size="16.9" font-weight="bold" fill="#7030A0" stroke="#7030A0" stroke-width="0.25" textLength="46.8" lengthAdjust="spacingAndGlyphs">60000</text>
<text x="975.4" y="339.5" font-size="16.9" font-weight="bold" fill="#7030A0" stroke="#7030A0" stroke-width="0.25" textLength="46.8" lengthAdjust="spacingAndGlyphs">40000</text>
<text x="975.4" y="495.0" font-size="16.9" font-weight="bold" fill="#7030A0" stroke="#7030A0" stroke-width="0.25" textLength="46.8" lengthAdjust="spacingAndGlyphs">20000</text>
<text x="975.4" y="650.6" font-size="16.9" font-weight="bold" fill="#7030A0" stroke="#7030A0" stroke-width="0.25" textLength="9.4" lengthAdjust="spacingAndGlyphs">0</text>
<text x="95.1" y="675" text-anchor="middle" font-size="16.9" fill="#555" stroke="#555" stroke-width="0.25" textLength="55" lengthAdjust="spacingAndGlyphs">mrt. 20</text>
<text x="174.4" y="675" text-anchor="middle" font-size="16.9" fill="#555" stroke="#555" stroke-width="0.25" textLength="50.3" lengthAdjust="spacingAndGlyphs">jun. 20</text>
<text x="253.7" y="675" text-anchor="middle" font-size="16.9" fill="#555" stroke="#555" stroke-width="0.25" textLength="53.4" lengthAdjust="spacingAndGlyphs">sep. 20</text>
<text x="332.2" y="675" text-anchor="middle" font-size="16.9" fill="#555" stroke="#555" stroke-width="0.25" textLength="54.6" lengthAdjust="spacingAndGlyphs">dec. 20</text>
<text x="409.8" y="675" text-anchor="middle" font-size="16.9" fill="#555" stroke="#555" stroke-width="0.25" textLength="55" lengthAdjust="spacingAndGlyphs">mrt. 21</text>
<text x="489.1" y="675" text-anchor="middle" font-size="16.9" fill="#555" stroke="#555" stroke-width="0.25" textLength="50.3" lengthAdjust="spacingAndGlyphs">jun. 21</text>
<text x="568.4" y="675" text-anchor="middle" font-size="16.9" fill="#555" stroke="#555" stroke-width="0.25" textLength="53.4" lengthAdjust="spacingAndGlyphs">sep. 21</text>
<text x="646.9" y="675" text-anchor="middle" font-size="16.9" fill="#555" stroke="#555" stroke-width="0.25" textLength="54.6" lengthAdjust="spacingAndGlyphs">dec. 21</text>
<text x="724.5" y="675" text-anchor="middle" font-size="16.9" fill="#555" stroke="#555" stroke-width="0.25" textLength="55" lengthAdjust="spacingAndGlyphs">mrt. 22</text>
<text x="803.8" y="675" text-anchor="middle" font-size="16.9" fill="#555" stroke="#555" stroke-width="0.25" textLength="50.3" lengthAdjust="spacingAndGlyphs">jun. 22</text>
<text x="883.2" y="675" text-anchor="middle" font-size="16.9" fill="#555" stroke="#555" stroke-width="0.25" textLength="53.4" lengthAdjust="spacingAndGlyphs">sep. 22</text>
<text transform="translate(25.5,326) rotate(-90)" text-anchor="middle" font-size="15.9" fill="#555" stroke="#555" stroke-width="0.2">Overlijdens t.o.v. CBS verwachting</text>
<text transform="translate(1009,262.2) rotate(-90)" text-anchor="middle" font-size="15.6" font-weight="bold" fill="#7030A0">Vaccinaties</text>
</g>
</svg>
</body></html>
